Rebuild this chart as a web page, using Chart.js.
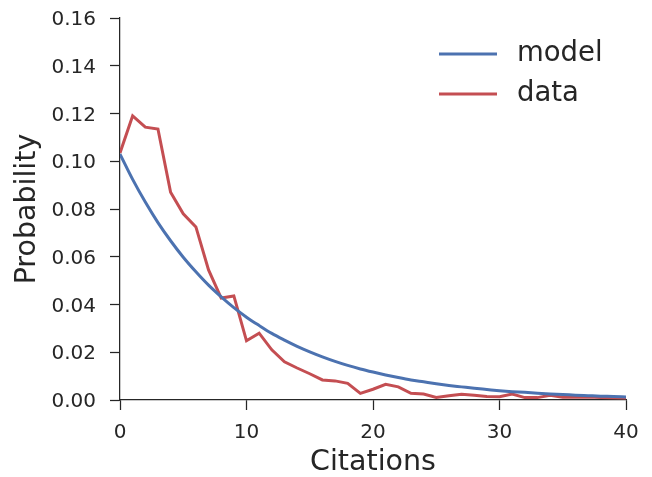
<!DOCTYPE html>
<html>
<head>
<meta charset="utf-8">
<script src="https://cdn.jsdelivr.net/npm/chart.js@4/dist/chart.umd.min.js"></script>
<style>
  html, body { margin: 0; padding: 0; background: #fff; }
  #wrap { width: 652px; height: 477px; position: relative; }
</style>
</head>
<body>
<div id="wrap"><canvas id="chart"></canvas></div>
<script>
const citations = [0, 1, 2, 3, 4, 5, 6, 7, 8, 9, 10, 11, 12, 13, 14, 15, 16, 17, 18, 19, 20,
  21, 22, 23, 24, 25, 26, 27, 28, 29, 30, 31, 32, 33, 34, 35, 36, 37, 38, 39, 40];

const modelProb = [0.1030, 0.0924, 0.0829, 0.0743, 0.0667, 0.0598, 0.0537, 0.0481, 0.0432, 0.0387,
  0.0347, 0.0312, 0.0279, 0.0251, 0.0225, 0.0202, 0.0181, 0.0162, 0.0145, 0.0130,
  0.0117, 0.0105, 0.0094, 0.0084, 0.0076, 0.0068, 0.0061, 0.0055, 0.0049, 0.0044,
  0.0039, 0.0035, 0.0032, 0.0028, 0.0025, 0.0023, 0.0020, 0.0018, 0.0016, 0.0015, 0.0013];

const dataProb = [0.1035, 0.1190, 0.1143, 0.1135, 0.0870, 0.0780, 0.0725, 0.0545, 0.0427, 0.0436,
  0.0248, 0.0280, 0.0210, 0.0160, 0.0134, 0.0110, 0.0084, 0.0080, 0.0070, 0.0028,
  0.0045, 0.0066, 0.0055, 0.0028, 0.0025, 0.0011, 0.0018, 0.0024, 0.0020, 0.0015,
  0.0014, 0.0025, 0.0010, 0.0010, 0.0020, 0.0012, 0.0012, 0.0013, 0.0010, 0.0009, 0.0008];

const yTicks = [0, 0.02, 0.04, 0.06, 0.08, 0.10, 0.12, 0.14, 0.16];
const xTicks = [0, 10, 20, 30, 40];

const ink = '#262626';
const fontFamily = '"DejaVu Sans", sans-serif';

// legend drawn inside the plot, top right, like matplotlib
const lineLegend = {
  id: 'lineLegend',
  afterDraw(chart) {
    const ctx = chart.ctx;
    const rows = [54, 94];
    ctx.save();
    chart.data.datasets.forEach((ds, i) => {
      const y = rows[i];
      ctx.strokeStyle = ds.borderColor;
      ctx.lineWidth = 3;
      ctx.beginPath();
      ctx.moveTo(439, y);
      ctx.lineTo(497, y);
      ctx.stroke();
      ctx.fillStyle = ink;
      ctx.font = '27.5px ' + fontFamily;
      ctx.textBaseline = 'middle';
      ctx.textAlign = 'left';
      ctx.fillText(ds.label, 517, y);
    });
    ctx.restore();
  }
};

new Chart(document.getElementById('chart'), {
  type: 'line',
  data: {
    datasets: [
      {
        label: 'model',
        data: citations.map((c, i) => ({ x: c, y: modelProb[i] })),
        borderColor: '#4C72B0',
        borderWidth: 3,
        pointRadius: 0,
        cubicInterpolationMode: 'monotone'
      },
      {
        label: 'data',
        data: citations.map((c, i) => ({ x: c, y: dataProb[i] })),
        borderColor: '#C44E52',
        borderWidth: 3,
        pointRadius: 0,
        tension: 0
      }
    ]
  },
  options: {
    responsive: true,
    maintainAspectRatio: false,
    animation: false,
    layout: { padding: { top: 18, right: 26, left: 0, bottom: 0 } },
    plugins: {
      legend: { display: false },
      tooltip: { enabled: false }
    },
    scales: {
      x: {
        type: 'linear',
        min: 0,
        max: 40,
        afterFit: (scale) => {
          scale.height = 77;
          scale.paddingLeft = 0;
          scale.paddingRight = 0;
        },
        afterBuildTicks: (scale) => { scale.ticks = xTicks.map(v => ({ value: v })); },
        border: { display: true, color: ink, width: 1.25 },
        grid: { drawOnChartArea: false, drawTicks: true, tickLength: 10, tickWidth: 1.25, tickColor: ink },
        ticks: { color: ink, padding: 11, font: { family: fontFamily, size: 20 } },
        title: {
          display: true,
          text: 'Citations',
          color: ink,
          font: { family: fontFamily, size: 28.5, lineHeight: 1 },
          padding: { top: 0, bottom: 0 }
        }
      },
      y: {
        min: 0,
        max: 0.16,
        afterFit: (scale) => {
          scale.width = 120;
          scale.paddingTop = 0;
          scale.paddingBottom = 0;
        },
        afterBuildTicks: (scale) => { scale.ticks = yTicks.map(v => ({ value: v })); },
        border: { display: true, color: ink, width: 1.25 },
        grid: { drawOnChartArea: false, drawTicks: true, tickLength: 10, tickWidth: 1.25, tickColor: ink },
        ticks: {
          color: ink,
          padding: 14,
          labelOffset: 2,
          font: { family: fontFamily, size: 20 },
          callback: (v) => Number(v).toFixed(2)
        },
        title: {
          display: true,
          text: 'Probability',
          color: ink,
          font: { family: fontFamily, size: 28.5, lineHeight: 1 },
          padding: { top: 13, bottom: 0 }
        }
      }
    }
  },
  plugins: [lineLegend]
});
</script>
</body>
</html>
